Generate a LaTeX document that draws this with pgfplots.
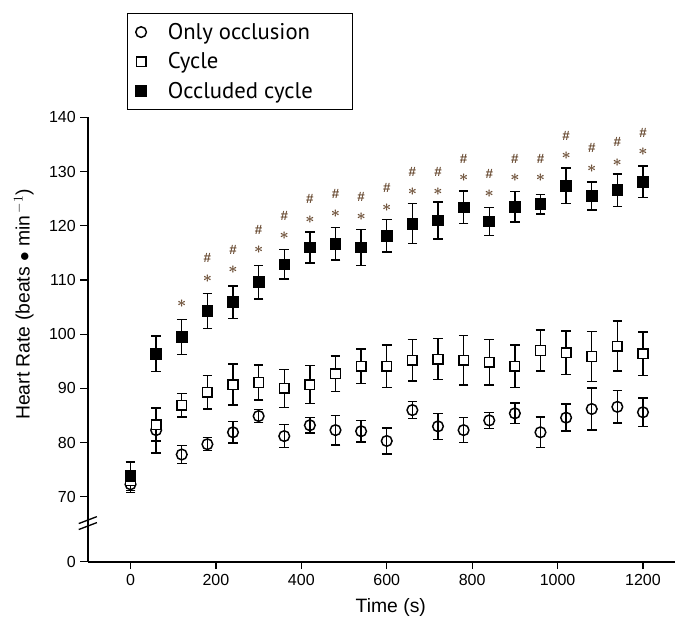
\documentclass[border=0pt]{standalone}
\usepackage{pgfplots}
\pgfplotsset{compat=1.18}
\usepackage{amsmath}
\usepackage{fontspec}
\setmainfont{Liberation Sans}
\newfontfamily\legfont{PT Sans}
\definecolor{sigcol}{RGB}{105,75,50}

\begin{document}
\begin{tikzpicture}
\begin{axis}[
    scale only axis,
    width=440pt, height=333pt,
    xmin=-100, xmax=1275,
    ymin=58, ymax=140,
    axis lines=left,
    axis line style={-, line width=1.1pt},
    tick align=outside,
    major tick length=5.5pt,
    tick style={line width=0.9pt, black},
    xtick={0,200,...,1200},
    ytick={58,70,80,90,100,110,120,130,140},
    yticklabels={0,70,80,90,100,110,120,130,140},
    ticklabel style={font=\fontsize{12}{14}\selectfont},
    /pgf/number format/assume math mode=true,
    /pgf/number format/1000 sep={},
    xlabel={Time (s)},
    ylabel={Heart Rate (beats $\bullet$ min$^{\,-1}$)},
    label style={font=\fontsize{14.5}{16}\selectfont},
    xlabel style={at={(rel axis cs:0.516,0)}, anchor=center, yshift=-34pt},
    ylabel style={at={(rel axis cs:0,0.579)}, anchor=center, yshift=48pt},
    clip=false,
    legend style={at={(rel axis cs:0.067,1.0165)}, anchor=south west,
        draw=black, line width=0.9pt, font=\legfont\fontsize{17}{20}\selectfont,
        row sep=4.5pt, column sep=14pt, inner xsep=6pt, inner ysep=5pt},
    legend cell align=left,
    error bars/error bar style={line width=1.1pt, black},
    error bars/error mark options={rotate=90, mark size=3.6pt, line width=1.1pt},
]
% legend-only order: circle, open square, filled square
\addplot[only marks, mark=o, mark size=4pt, mark options={line width=1.1pt, fill=white}, black,
    error bars/.cd, y dir=both, y explicit]
    table[x=t, y=m, y error=e] {
t m e
0 72.3 1.5
60 82.3 4.2
120 77.8 1.7
180 79.7 1.2
240 81.9 2.0
300 84.9 1.2
360 81.2 2.1
420 83.2 1.4
480 82.3 2.7
540 82.1 2.0
600 80.3 2.4
660 86.0 1.6
720 83.0 2.4
780 82.3 2.3
840 84.1 1.5
900 85.4 1.9
960 81.9 2.8
1020 84.6 2.5
1080 86.2 3.9
1140 86.6 3.0
1200 85.6 2.6
};
\addlegendentry{Only occlusion}
\addplot[only marks, mark=square*, mark size=3.6pt, mark options={line width=1.1pt, fill=white, draw=black}, black,
    error bars/.cd, y dir=both, y explicit]
    table[x=t, y=m, y error=e] {
t m e
0 73.0 1.8
60 83.3 3.0
120 86.9 2.2
180 89.3 3.1
240 90.7 3.8
300 91.1 3.2
360 90.0 3.5
420 90.7 3.5
480 92.7 3.3
540 94.1 3.2
600 94.1 3.9
660 95.2 3.8
720 95.4 3.8
780 95.2 4.6
840 94.8 4.2
900 94.1 3.9
960 97.0 3.8
1020 96.6 4.0
1080 95.9 4.6
1140 97.8 4.6
1200 96.4 4.0
};
\addlegendentry{Cycle}
\addplot[only marks, mark=square*, mark size=4pt, mark options={line width=0.6pt, fill=black}, black,
    error bars/.cd, y dir=both, y explicit]
    table[x=t, y=m, y error=e] {
t m e
0 73.8 2.6
60 96.4 3.3
120 99.5 3.2
180 104.3 3.2
240 105.9 3.0
300 109.6 3.1
360 112.9 2.7
420 116.0 2.9
480 116.7 3.0
540 116.0 3.3
600 118.2 3.0
660 120.4 3.7
720 121.0 3.4
780 123.4 3.0
840 120.8 2.6
900 123.5 2.8
960 124.0 1.8
1020 127.4 3.3
1080 125.5 2.6
1140 126.6 3.0
1200 128.1 2.9
};
\addlegendentry{Occluded cycle\hspace*{22pt}}
% significance marks
\addplot[forget plot, only marks, mark=text,
    text mark={\color{sigcol}\fontsize{12}{12}\selectfont$\boldsymbol{\ast}$}]
    table {
120 105.6
180 110.3
240 111.9
300 115.6
360 118.1
420 121.1
480 122.2
540 121.6
600 123.4
660 126.3
720 126.3
780 128.8
840 125.9
900 128.8
960 128.8
1020 132.9
1080 130.6
1140 131.7
1200 133.6
};
\addplot[forget plot, only marks, mark=text,
    text mark={\color{sigcol}\fontsize{10}{10}\selectfont\bfseries\#}]
    table {
180 114.0
240 115.6
300 119.2
360 121.8
420 124.9
480 125.9
540 125.3
600 127.0
660 130.0
720 130.0
780 132.4
840 129.6
900 132.4
960 132.4
1020 136.6
1080 134.3
1140 135.4
1200 137.2
};
% axis break
\draw[line width=1pt] ([shift={(-6.8pt,-2.6pt)}]axis cs:-100,65.7) -- ([shift={(6.8pt,2.6pt)}]axis cs:-100,65.7);
\draw[line width=1pt] ([shift={(-6.8pt,-2.6pt)}]axis cs:-100,64.6) -- ([shift={(6.8pt,2.6pt)}]axis cs:-100,64.6);
\end{axis}
\pgfresetboundingbox
\path ([shift={(-65.8pt,-44.5pt)}]current axis.south west) rectangle ([shift={(0pt,88pt)}]current axis.north east);
\end{tikzpicture}
\end{document}
